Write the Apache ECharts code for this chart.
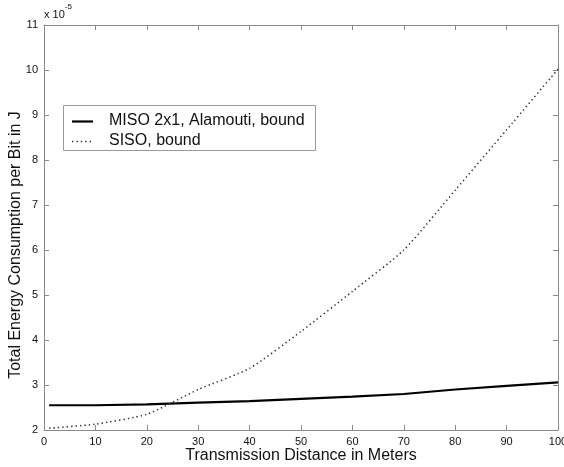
<!DOCTYPE html>
<html>
<head>
<meta charset="utf-8">
<script src="https://cdn.jsdelivr.net/npm/echarts@6/dist/echarts.min.js"></script>
<style>
  html, body { margin: 0; padding: 0; background: #fff; }
  #chart { width: 564px; height: 467px; }
</style>
</head>
<body>
<div id="chart"></div>
<script>
// Transmission distance (m)
const distance = [1, 10, 20, 30, 40, 50, 60, 70, 80, 90, 100];
// Energy per bit, in units of 1e-5 J
const misoBound = [2.55, 2.55, 2.57, 2.61, 2.64, 2.69, 2.74, 2.80, 2.90, 2.98, 3.06];
const sisoBound = [2.04, 2.13, 2.35, 2.90, 3.37, 4.19, 5.08, 6.00, 7.33, 8.67, 10.02];
const xTicks = [0, 10, 20, 30, 40, 50, 60, 70, 80, 90, 100];
const yTicks = [2, 3, 4, 5, 6, 7, 8, 9, 10, 11];
const seriesNames = ['MISO 2x1, Alamouti, bound', 'SISO, bound'];

const pairs = (xs, ys) => xs.map((x, i) => [x, ys[i]]);
const FONT = 'Liberation Sans, Arial, sans-serif';
const AXIS_GRAY = '#8a8a8a';
const SOLID = { color: '#000', width: 2.2 };
const DOTTED = { color: '#333', width: 1.5, type: [1.4, 3] };

function makeAxis(pos, showLabels, ticks, interval, margin) {
  return {
    type: 'value',
    position: pos,
    min: ticks[0],
    max: ticks[ticks.length - 1],
    interval: interval,
    axisLine: { show: true, onZero: false, lineStyle: { color: AXIS_GRAY, width: 1 } },
    axisTick: { show: true, inside: true, length: 5, lineStyle: { color: AXIS_GRAY, width: 1 } },
    splitLine: { show: false },
    axisLabel: {
      show: showLabels, inside: false, margin: margin,
      color: '#111', fontFamily: FONT, fontSize: 11,
      showMinLabel: true, showMaxLabel: true, hideOverlap: false
    }
  };
}

// Legend drawn as a boxed key in the upper-left of the plot
const legendX = 63, legendY = 105, legendW = 252, legendH = 45;
const legendRows = [
  { name: seriesNames[0], style: SOLID, y: 121 },
  { name: seriesNames[1], style: DOTTED, y: 141 }
];
const legendGraphics = [
  {
    type: 'rect', shape: { x: legendX + 0.5, y: legendY + 0.5, width: legendW, height: legendH },
    style: { fill: '#fff', stroke: '#9a9a9a', lineWidth: 1 }, z: 100
  }
];
legendRows.forEach(r => {
  legendGraphics.push({
    type: 'line', shape: { x1: 72, y1: r.y + 0.5, x2: 93, y2: r.y + 0.5 },
    style: { stroke: r.style.color, lineWidth: r.style.width, lineDash: r.style.type === undefined ? null : r.style.type },
    z: 101
  });
  legendGraphics.push({
    type: 'text', x: 109, y: r.y,
    style: { text: r.name, fontFamily: FONT, fontSize: 16, fill: '#111', align: 'left', verticalAlign: 'middle' },
    z: 101
  });
});

const chart = echarts.init(document.getElementById('chart'), null, { renderer: 'canvas' });
chart.setOption({
  animation: false,
  backgroundColor: '#fff',
  grid: { left: 44, right: 6, top: 25, bottom: 37, containLabel: false, outerBoundsMode: 'none' },
  xAxis: [
    makeAxis('bottom', true, xTicks, 10, 6),
    makeAxis('top', false, xTicks, 10, 6)
  ],
  yAxis: [
    makeAxis('left', true, yTicks, 1, 6),
    makeAxis('right', false, yTicks, 1, 6)
  ],
  series: [
    {
      name: seriesNames[0], type: 'line', data: pairs(distance, misoBound),
      showSymbol: false, symbol: 'none',
      lineStyle: SOLID
    },
    {
      name: seriesNames[1], type: 'line', data: pairs(distance, sisoBound),
      showSymbol: false, symbol: 'none', smooth: 0.2,
      lineStyle: DOTTED
    }
  ],
  graphic: [
    {
      type: 'text', left: 44, top: 3,
      style: {
        text: '{b|x 10}{s|-5}',
        rich: {
          b: { fontFamily: FONT, fontSize: 11, fill: '#111', verticalAlign: 'bottom', padding: [6, 0, 0, 0] },
          s: { fontFamily: FONT, fontSize: 8, fill: '#111', verticalAlign: 'top' }
        }
      }
    },
    {
      type: 'text', x: 301, y: 456,
      style: {
        text: 'Transmission Distance in Meters',
        fontFamily: FONT, fontSize: 16, fill: '#111',
        align: 'center', verticalAlign: 'middle'
      }
    },
    {
      type: 'text', x: 16, y: 245, rotation: Math.PI / 2,
      style: {
        text: 'Total Energy Consumption per Bit in J',
        fontFamily: FONT, fontSize: 16, fill: '#111',
        align: 'center', verticalAlign: 'middle'
      }
    }
  ].concat(legendGraphics)
});
</script>
</body>
</html>
